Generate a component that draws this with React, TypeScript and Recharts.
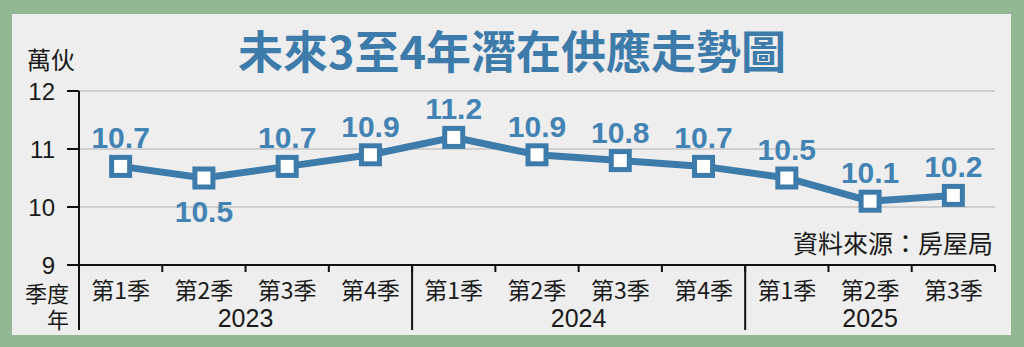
import React from 'react';
import { LineChart, Line, XAxis, YAxis, CartesianGrid, LabelList } from 'recharts';

const quarters = ['第1季', '第2季', '第3季', '第4季', '第1季', '第2季', '第3季', '第4季', '第1季', '第2季', '第3季'];
const years = ['2023', '2023', '2023', '2023', '2024', '2024', '2024', '2024', '2025', '2025', '2025'];
const supply = [10.7, 10.5, 10.7, 10.9, 11.2, 10.9, 10.8, 10.7, 10.5, 10.1, 10.2];
const labelSides = ['top', 'bottom', 'top', 'top', 'top', 'top', 'top', 'top', 'top', 'top', 'top'];
const yTicks = [9, 10, 11, 12];

const title = '未來3至4年潛在供應走勢圖';
const unitLabel = '萬伙';
const quarterAxisName = '季度';
const yearAxisName = '年';
const sourceText = '資料來源：房屋局';

const data = quarters.map((q, i) => ({ idx: i, quarter: q, year: years[i], value: supply[i] }));

const W = 1024;
const H = 347;
const M_TOP = 91;
const M_RIGHT = 29;
const Y_W = 79;
const X_H = 82;
const PLOT_W = W - Y_W - M_RIGHT;
const HALF = PLOT_W / quarters.length / 2;

const BLUE = '#3d7bab';
const LABEL_BLUE = '#4283b4';
const CJK = '"Noto Sans CJK TC", "Noto Sans", sans-serif';
const LAT = '"Liberation Sans", Arial, sans-serif';

const XTick = (props: any) => {
  const { x, y, payload } = props;
  const i = Number(payload.value);
  const yr = years[i];
  const isFirst = i === 0 || years[i - 1] !== yr;
  const isLast = i === years.length - 1 || years[i + 1] !== yr;
  let groupCount = 0;
  years.forEach((v) => { if (v === yr) groupCount++; });
  return (
    <g>
      <text x={x} y={y + 34} textAnchor="middle" fontSize={23} fontFamily={CJK} fill="#1a1a1a">{quarters[i]}</text>
      <line x1={x + HALF} y1={y} x2={x + HALF} y2={y + 7} stroke="#111" strokeWidth={2} />
      {isLast && i !== years.length - 1 && (
        <line x1={x + HALF} y1={y} x2={x + HALF} y2={y + 65} stroke="#111" strokeWidth={2} />
      )}
      {i === 0 && <line x1={x - HALF} y1={y} x2={x - HALF} y2={y + 65} stroke="#111" strokeWidth={2} />}
      {isFirst && (
        <text x={x - HALF + groupCount * HALF} y={y + 62} textAnchor="middle" fontSize={25} fontFamily={LAT} fill="#1a1a1a">{yr}</text>
      )}
    </g>
  );
};

const Dot = (props: any) => {
  const { cx, cy } = props;
  if (cx == null || cy == null) return null;
  return <rect x={cx - 9} y={cy - 9} width={18} height={18} fill="#ffffff" stroke={BLUE} strokeWidth={5} />;
};

const ValueLabel = (props: any) => {
  const { x, y, value, index } = props;
  const below = labelSides[index] === 'bottom';
  return (
    <text x={x} y={below ? y + 44 : y - 18} textAnchor="middle" fontSize={30} fontWeight="bold" fontFamily={LAT} fill={LABEL_BLUE}>
      {Number(value).toFixed(1)}
    </text>
  );
};

const txt = (extra: React.CSSProperties): React.CSSProperties => ({
  position: 'absolute',
  fontFamily: CJK,
  color: '#1a1a1a',
  whiteSpace: 'nowrap',
  lineHeight: 1,
  ...extra,
});

export default function App() {
  return (
    <div style={{ position: 'absolute', left: 0, top: 0, width: W, height: H, background: '#93b793', overflow: 'hidden' }}>
      <div style={{ position: 'absolute', left: 12, top: 14, width: 999, height: 321, background: '#eeeeee' }} />
      <div style={txt({ left: 0, width: W, top: 27, textAlign: 'center', fontSize: 45, fontWeight: 'bold', color: BLUE })}>{title}</div>
      <div style={txt({ left: 27, top: 47, fontSize: 24 })}>{unitLabel}</div>
      <div style={txt({ left: 16, width: 53, top: 281, fontSize: 22, textAlign: 'right' })}>{quarterAxisName}</div>
      <div style={txt({ left: 16, width: 53, top: 307, fontSize: 22, textAlign: 'right' })}>{yearAxisName}</div>
      <div style={txt({ right: 31, top: 230, fontSize: 25 })}>{sourceText}</div>
      <div style={{ position: 'absolute', left: 0, top: 0 }}>
        <LineChart width={W} height={H} data={data} margin={{ top: M_TOP, right: M_RIGHT, bottom: 0, left: 0 }}>
          <CartesianGrid horizontal vertical={false} stroke="#c4c4c4" strokeWidth={1.5} />
          <XAxis
            dataKey="idx"
            type="category"
            height={X_H}
            padding={{ left: HALF, right: HALF }}
            axisLine={{ stroke: '#111', strokeWidth: 2 }}
            tickLine={false}
            tickSize={0}
            tickMargin={0}
            interval={0}
            tick={<XTick />}
          />
          <YAxis
            type="number"
            domain={[9, 12]}
            ticks={yTicks}
            width={Y_W}
            axisLine={{ stroke: '#111', strokeWidth: 2 }}
            tickLine={{ stroke: '#111', strokeWidth: 2 }}
            tickSize={12}
            tickMargin={12}
            tick={{ fontSize: 24, fontFamily: LAT, fill: '#1a1a1a' }}
            interval={0}
          />
          <Line
            type="linear"
            dataKey="value"
            stroke={BLUE}
            strokeWidth={7}
            dot={<Dot />}
            activeDot={false}
            isAnimationActive={false}
          >
            <LabelList dataKey="value" content={<ValueLabel />} />
          </Line>
        </LineChart>
      </div>
    </div>
  );
}
